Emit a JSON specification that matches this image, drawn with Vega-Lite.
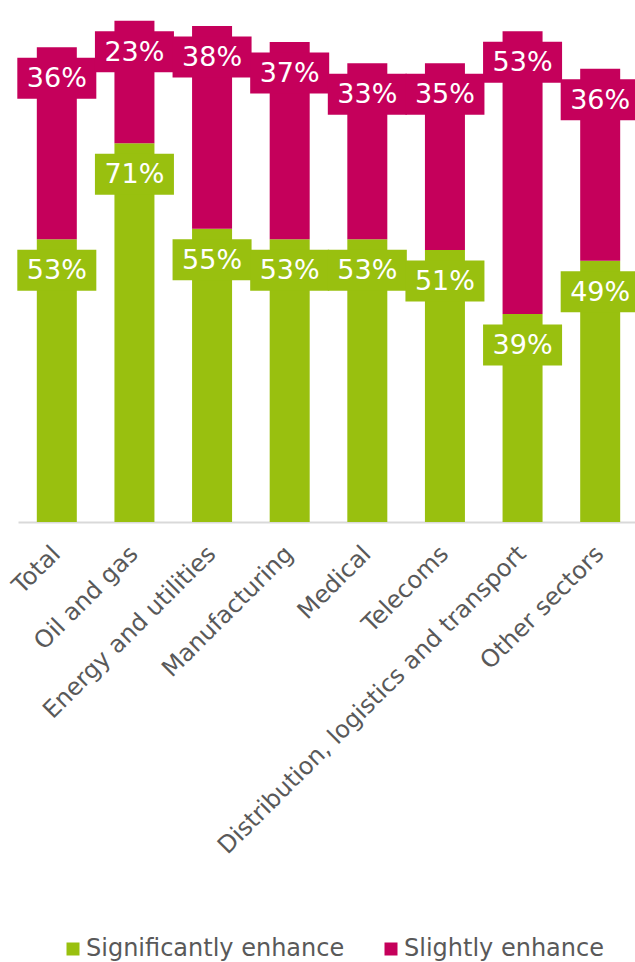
{
  "$schema": "https://vega.github.io/schema/vega-lite/v6.json",
  "autosize": "none",
  "width": 621,
  "height": 512,
  "padding": {"left": 18, "top": 10, "right": 0, "bottom": 440},
  "background": "white",
  "config": {
    "view": {"stroke": null},
    "font": "DejaVu Sans"
  },
  "data": {
    "values": [
      {"sector": "Total", "series": "Significantly enhance", "value": 0.53},
      {"sector": "Total", "series": "Slightly enhance", "value": 0.36},
      {"sector": "Oil and gas", "series": "Significantly enhance", "value": 0.71},
      {"sector": "Oil and gas", "series": "Slightly enhance", "value": 0.23},
      {"sector": "Energy and utilities", "series": "Significantly enhance", "value": 0.55},
      {"sector": "Energy and utilities", "series": "Slightly enhance", "value": 0.38},
      {"sector": "Manufacturing", "series": "Significantly enhance", "value": 0.53},
      {"sector": "Manufacturing", "series": "Slightly enhance", "value": 0.37},
      {"sector": "Medical", "series": "Significantly enhance", "value": 0.53},
      {"sector": "Medical", "series": "Slightly enhance", "value": 0.33},
      {"sector": "Telecoms", "series": "Significantly enhance", "value": 0.51},
      {"sector": "Telecoms", "series": "Slightly enhance", "value": 0.35},
      {"sector": "Distribution, logistics and transport", "series": "Significantly enhance", "value": 0.39},
      {"sector": "Distribution, logistics and transport", "series": "Slightly enhance", "value": 0.53},
      {"sector": "Other sectors", "series": "Significantly enhance", "value": 0.49},
      {"sector": "Other sectors", "series": "Slightly enhance", "value": 0.36}
    ]
  },
  "encoding": {
    "x": {
      "field": "sector",
      "type": "nominal",
      "sort": null,
      "scale": {"paddingInner": 0.485, "paddingOuter": 0.2425},
      "axis": {
        "title": null,
        "labelAngle": -45,
        "labelAlign": "right",
        "labelBaseline": "middle",
        "labelPadding": 28,
        "labelFontSize": 24,
        "labelColor": "#595959",
        "labelLimit": 600,
        "ticks": false,
        "domainColor": "#d9d9d9",
        "domainWidth": 2
      }
    },
    "y": {
      "field": "value",
      "type": "quantitative",
      "stack": "zero",
      "scale": {"domain": [0, 0.96], "nice": false},
      "axis": null
    },
    "color": {
      "field": "series",
      "type": "nominal",
      "scale": {
        "domain": ["Significantly enhance", "Slightly enhance"],
        "range": ["#99C00F", "#C5005B"]
      },
      "legend": {
        "title": null,
        "orient": "none",
        "direction": "horizontal",
        "legendX": 43,
        "legendY": 927,
        "symbolType": "square",
        "symbolSize": 169,
        "symbolStrokeWidth": 0,
        "labelFontSize": 24,
        "labelColor": "#595959",
        "labelOffset": 1,
        "columnPadding": 34,
        "labelLimit": 400
      }
    },
    "order": {"field": "series", "sort": "ascending"}
  },
  "layer": [
    {"mark": {"type": "bar", "width": 40}},
    {
      "mark": {
        "type": "point",
        "shape": "M-1.927,-1H1.927V1H-1.927Z",
        "size": 1681,
        "filled": true,
        "opacity": 1,
        "strokeWidth": 0,
        "yOffset": 31
      },
      "encoding": {"detail": {"field": "series"}}
    },
    {
      "mark": {
        "type": "text",
        "color": "white",
        "fontSize": 27,
        "baseline": "middle",
        "dy": 32
      },
      "encoding": {
        "text": {"field": "value", "type": "quantitative", "format": ".0%"},
        "detail": {"field": "series"},
        "color": {"value": "white"}
      }
    }
  ]
}
